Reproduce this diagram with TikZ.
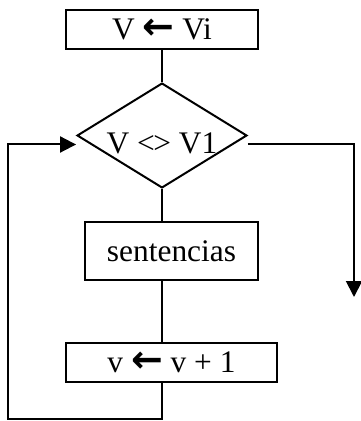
\documentclass[tikz,border=0pt]{standalone}
\usepackage{fontspec}
\setmainfont{Liberation Serif}
\newfontfamily\simbolos{DejaVu Sans}
\usetikzlibrary{shapes.geometric,arrows.meta}
\newcommand{\asig}{{\fontsize{19pt}{19pt}\simbolos\bfseries ←}}
\tikzset{
    caja/.style={draw, rectangle, inner sep=0pt},
    rombo/.style={draw, diamond, aspect=1.62, inner sep=0pt,
        minimum width=77pt, minimum height=47.5pt,
        text height=18.3pt, text depth=0pt},
    conflecha/.style={-{Triangle[length=8pt,width=8pt]}}
}

\begin{document}
\begin{tikzpicture}[x=0.5pt, y=-0.5pt, line width=1pt,
        font=\fontsize{15.7pt}{18pt}\selectfont]
    \useasboundingbox (0,0) rectangle (360,421);
        \node [caja, minimum width=96pt, minimum height=19.5pt] (ini) at (162,29.5) {V \asig{} Vi\hspace{12pt}};
        \node [rombo] (cond) at (162,135.5) {V <\kern-.05em> V1};
        \node [caja, minimum width=86.5pt, minimum height=29pt] (sent) at (171.5,251) {sentencias};
        \node [caja, minimum width=105.5pt, minimum height=19.5pt] (inc) at (171.5,362.5) {v \asig{} v + 1\hspace{8pt}};
    % 	esquinas del lazo y de la salida
        \coordinate (abajo) at (162,419);
        \coordinate (izq) at (8,419);
        \coordinate (salida) at (354,297);
        \draw (ini) -- (cond);
        \draw (cond.south) -- (cond.south |- sent.north);
        \draw (cond.south |- sent.south) -- (cond.south |- inc.north);
        \draw [conflecha] (cond.south |- inc.south) -- (abajo) -- (izq) |- ([yshift=-4.5pt]cond.west);
        \draw [conflecha] ([yshift=-4.5pt]cond.east) -| (salida);
    \end{tikzpicture}
\end{document}
